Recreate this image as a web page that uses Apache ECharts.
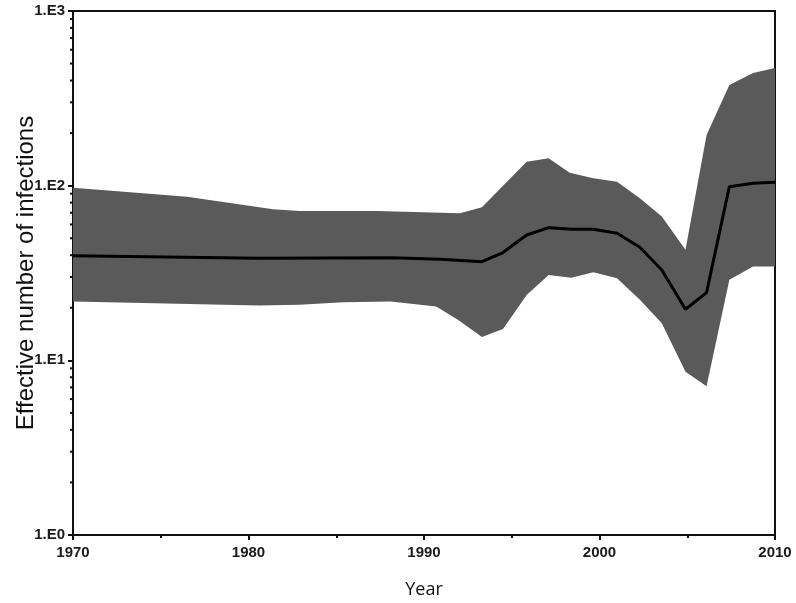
<!DOCTYPE html>
<html>
<head>
<meta charset="utf-8">
<script src="https://cdn.jsdelivr.net/npm/echarts@6/dist/echarts.min.js"></script>
<style>html,body{margin:0;padding:0;background:#fff}#c{width:796px;height:603px}</style>
</head>
<body>
<div id="c"></div>
<script>
// Data
var upperYears = [1970, 1976.5, 1981.4, 1982.9, 1987.3, 1992.05, 1993.3, 1995.85, 1997.1, 1998.3, 1999.65, 2001.0, 2002.3, 2003.55, 2004.9, 2006.1, 2007.4, 2008.75, 2010];
var upperVals  = [97.4, 86.5, 73.3, 71.6, 71.6, 69.5, 75.2, 137, 143.5, 118.7, 110.3, 105.4, 84.7, 66.5, 42.9, 195, 377, 442, 472];
var lowerYears = [1970, 1980.6, 1982.9, 1985.4, 1988.1, 1990.7, 1991.95, 1993.3, 1994.5, 1995.85, 1997.1, 1998.4, 1999.65, 2001.0, 2002.3, 2003.55, 2004.9, 2006.1, 2007.4, 2008.75, 2010];
var lowerVals  = [21.7, 20.6, 20.8, 21.5, 21.7, 20.3, 17.0, 13.6, 15.1, 23.7, 30.8, 29.7, 31.9, 29.5, 22.2, 16.3, 8.6, 7.1, 28.9, 34.4, 34.4];
var meanYears  = [1970, 1980.6, 1988.2, 1990.9, 1993.3, 1994.5, 1995.85, 1997.1, 1998.5, 1999.65, 2001.0, 2002.3, 2003.55, 2004.9, 2006.1, 2007.4, 2008.75, 2010];
var meanVals   = [39.7, 38.4, 38.7, 37.9, 36.7, 41.4, 52.2, 57.5, 56.3, 56.3, 53.4, 44.4, 32.9, 19.6, 24.4, 98.7, 103.2, 104.6];
var yTickValues = [1, 10, 100, 1000];
var yTickLabels = ['1.E0', '1.E1', '1.E2', '1.E3'];
var xTickLabels = ['1970', '1980', '1990', '2000', '2010'];
var yMinorTickValues = [2,3,4,5,6,7,8,9,20,30,40,50,60,70,80,90,200,300,400,500,600,700,800,900];

var meanData = meanYears.map(function (y, i) { return [y, meanVals[i]]; });
var minorData = yMinorTickValues.map(function (v) { return [1970, v]; });

var chart = echarts.init(document.getElementById('c'), null, {renderer: 'canvas'});
var tickFont = {fontFamily: 'Liberation Sans', fontWeight: 'bold', fontSize: 15, color: '#1a1a1a'};

chart.setOption({
  animation: false,
  backgroundColor: '#fff',
  grid: {left: 73, right: 21, top: 11, bottom: 68, outerBoundsMode: 'none', containLabel: false,
         show: true, borderColor: '#111', borderWidth: 2, backgroundColor: 'transparent'},
  xAxis: {
    type: 'value', min: 1970, max: 2010, interval: 10,
    name: 'Year', nameLocation: 'middle', nameGap: 46, nameMoveOverlap: false,
    nameTextStyle: {fontFamily: 'Open Sans', fontSize: 18, color: '#111'},
    axisLine: {show: true, lineStyle: {color: '#111', width: 2}},
    axisTick: {show: true, length: 5, lineStyle: {color: '#111', width: 2}},
    minorTick: {show: true, splitNumber: 2, length: 3, lineStyle: {color: '#111', width: 2}},
    splitLine: {show: false},
    axisLabel: Object.assign({margin: 10, formatter: function (v) {
      var i = xTickLabels.indexOf(String(v)); return i >= 0 ? xTickLabels[i] : '';
    }}, tickFont)
  },
  yAxis: {
    type: 'log', logBase: 10, min: 1, max: 1000,
    name: 'Effective number of infections', nameLocation: 'middle', nameGap: 35, nameRotate: 90, nameMoveOverlap: false,
    nameTextStyle: {fontFamily: 'Liberation Sans', fontSize: 24, color: '#111'},
    axisLine: {show: true, lineStyle: {color: '#111', width: 2}},
    axisTick: {show: true, length: 5, lineStyle: {color: '#111', width: 2}},
    splitLine: {show: false},
    axisLabel: Object.assign({margin: 8, formatter: function (v) {
      var i = yTickValues.indexOf(Math.round(v)); return i >= 0 ? yTickLabels[i] : '';
    }}, tickFont)
  },
  series: [
    {
      type: 'custom', name: 'band', z: 1, silent: true,
      data: [[1970, 1]],
      renderItem: function (params, api) {
        var pts = [];
        for (var i = 0; i < upperYears.length; i++) pts.push(api.coord([upperYears[i], upperVals[i]]));
        for (var j = lowerYears.length - 1; j >= 0; j--) pts.push(api.coord([lowerYears[j], lowerVals[j]]));
        return {type: 'polygon', shape: {points: pts}, style: {fill: '#5a5a5a', stroke: null}};
      }
    },
    {
      type: 'line', name: 'mean', z: 3, data: meanData, showSymbol: false, symbol: 'none',
      lineStyle: {color: '#000', width: 3}
    },
    {
      type: 'custom', name: 'yminor', z: 4, silent: true, clip: false,
      data: minorData,
      renderItem: function (params, api) {
        var p = api.coord([api.value(0), api.value(1)]);
        return {type: 'line', shape: {x1: p[0] - 3, y1: p[1], x2: p[0], y2: p[1]}, style: {stroke: '#111', lineWidth: 2}};
      }
    }
  ]
});
</script>
</body>
</html>
